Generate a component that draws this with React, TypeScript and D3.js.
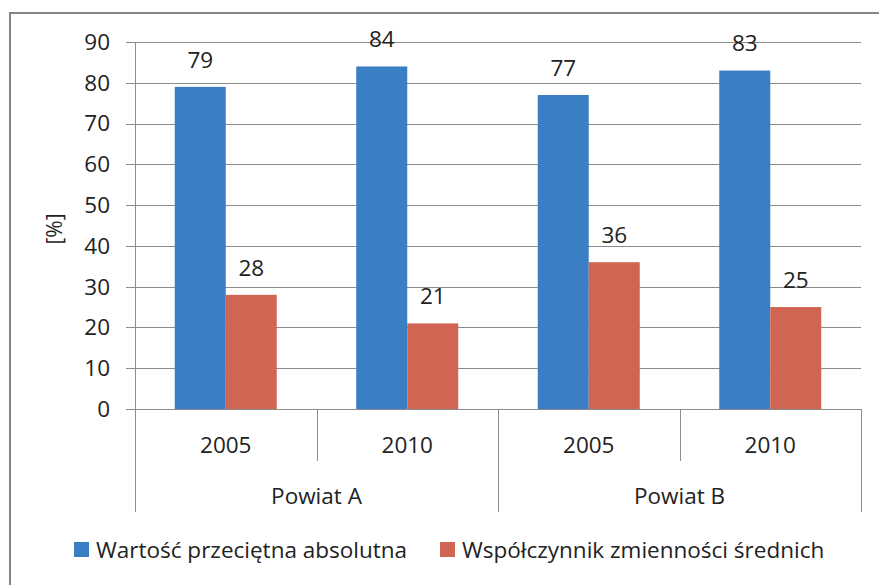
import * as d3 from 'd3';
import { useEffect, useRef } from 'react';

const years = ['2005', '2010', '2005', '2010'];
const districts = ['Powiat A', 'Powiat B'];
const seriesNames = ['Wartość przeciętna absolutna', 'Współczynnik zmienności średnich'];
const meanAbs = [79, 84, 77, 83];
const variation = [28, 21, 36, 25];
const yTicks = [0, 10, 20, 30, 40, 50, 60, 70, 80, 90];
const colors = ['#3a7ec4', '#d06553'];

const W = 879;
const H = 585;
const FONT = '"Open Sans", "Noto Sans", sans-serif';
const FS = '22.5px';

const App = () => {
  const ref = useRef<SVGSVGElement>(null);

  useEffect(() => {
    const svg = d3.select(ref.current);
    svg.selectAll('*').remove();

    const margin = { top: 42, left: 135, right: 18, bottom: 176 };
    const plotW = W - margin.left - margin.right;
    const plotH = H - margin.top - margin.bottom;

    // outer frame
    svg
      .append('rect')
      .attr('x', 10)
      .attr('y', 13)
      .attr('width', W + 20)
      .attr('height', H + 20)
      .style('fill', 'white')
      .style('stroke', '#868686')
      .style('stroke-width', 2);

    const x = d3
      .scaleBand<number>()
      .domain(d3.range(years.length))
      .range([0, plotW]);
    const y = d3.scaleLinear().domain([0, 90]).range([plotH, 0]);
    const inner = d3
      .scaleBand<number>()
      .domain([0, 1])
      .range([x.bandwidth() * 0.219, x.bandwidth() * 0.781]);

    const g = svg.append('g').attr('transform', `translate(${margin.left},${margin.top})`);

    const txt = (sel: any) =>
      sel.style('font-family', FONT).style('font-size', FS).style('fill', '#222');

    // gridlines
    g.selectAll('.grid')
      .data(yTicks)
      .enter()
      .append('line')
      .attr('x1', -9)
      .attr('x2', plotW)
      .attr('y1', (d) => Math.round(y(d)) + 0.5)
      .attr('y2', (d) => Math.round(y(d)) + 0.5)
      .style('stroke', '#8c8c8c')
      .style('stroke-width', 1);

    g.selectAll('.ytick')
      .data(yTicks)
      .enter()
      .append('text')
      .attr('x', -25)
      .attr('y', (d) => y(d))
      .attr('dy', '0.35em')
      .attr('text-anchor', 'end')
      .call(txt)
      .text((d) => d);

    // left axis line
    g.append('line')
      .attr('x1', 0.5)
      .attr('x2', 0.5)
      .attr('y1', 0)
      .attr('y2', plotH + 103)
      .style('stroke', '#8c8c8c');

    // bars
    const rows = years.map((yr, i) => [meanAbs[i], variation[i]]);
    const grp = g
      .selectAll('.grp')
      .data(rows)
      .enter()
      .append('g')
      .attr('transform', (d, i) => `translate(${x(i)},0)`);

    grp
      .selectAll('rect')
      .data((d) => d.map((v, s) => ({ v, s })))
      .enter()
      .append('rect')
      .attr('x', (d) => inner(d.s)!)
      .attr('y', (d) => y(d.v))
      .attr('width', inner.bandwidth())
      .attr('height', (d) => plotH - y(d.v))
      .style('fill', (d) => colors[d.s]);

    grp
      .selectAll('.lbl')
      .data((d) => d.map((v, s) => ({ v, s })))
      .enter()
      .append('text')
      .attr('x', (d) => inner(d.s)! + inner.bandwidth() / 2)
      .attr('y', (d) => y(d.v) - 27)
      .attr('dy', '0.35em')
      .attr('text-anchor', 'middle')
      .call(txt)
      .text((d) => d.v);

    // category separators
    g.selectAll('.sep')
      .data(d3.range(1, years.length + 1))
      .enter()
      .append('line')
      .attr('x1', (i) => Math.round(x(i - 1)! + x.bandwidth()) + 0.5)
      .attr('x2', (i) => Math.round(x(i - 1)! + x.bandwidth()) + 0.5)
      .attr('y1', plotH)
      .attr('y2', (i) => (i % 2 === 0 ? plotH + 103 : plotH + 52))
      .style('stroke', '#8c8c8c');

    g.selectAll('.year')
      .data(years)
      .enter()
      .append('text')
      .attr('x', (d, i) => x(i)! + x.bandwidth() / 2)
      .attr('y', plotH + 36)
      .attr('dy', '0.35em')
      .attr('text-anchor', 'middle')
      .call(txt)
      .text((d) => d);

    g.selectAll('.district')
      .data(districts)
      .enter()
      .append('text')
      .attr('x', (d, i) => x(i * 2)! + x.bandwidth())
      .attr('y', plotH + 87)
      .attr('dy', '0.35em')
      .attr('text-anchor', 'middle')
      .call(txt)
      .text((d) => d);

    // bottom axis line
    g.append('line')
      .attr('x1', -9)
      .attr('x2', plotW)
      .attr('y1', plotH + 0.5)
      .attr('y2', plotH + 0.5)
      .style('stroke', '#8c8c8c');

    // y label
    svg
      .append('text')
      .attr('transform', `translate(62,229) rotate(-90)`)
      .attr('text-anchor', 'middle')
      .call(txt)
      .style('font-size', '21px')
      .text('[%]');

    // legend
    const legendX = [74, 440];
    const leg = svg
      .selectAll('.leg')
      .data(seriesNames)
      .enter()
      .append('g')
      .attr('transform', (d, i) => `translate(${legendX[i]},542)`);
    leg
      .append('rect')
      .attr('width', 15)
      .attr('height', 15)
      .style('fill', (d, i) => colors[i]);
    leg
      .append('text')
      .attr('x', 22)
      .attr('y', 8)
      .attr('dy', '0.35em')
      .call(txt)
      .text((d) => d);
  }, []);

  return (
    <svg
      ref={ref}
      width={W}
      height={H}
      style={{ position: 'absolute', left: 0, top: 0, display: 'block' }}
    />
  );
};

export default App;
